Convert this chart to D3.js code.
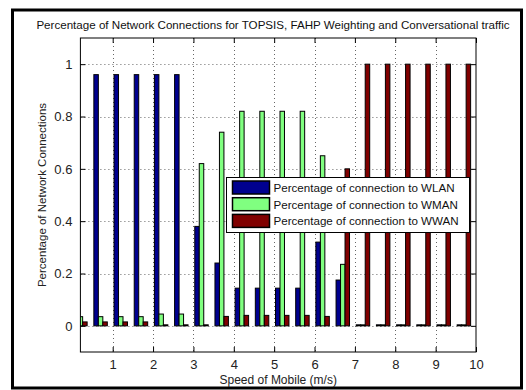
<!DOCTYPE html>
<html><head><meta charset="utf-8">
<script src="https://cdn.jsdelivr.net/npm/d3@7/dist/d3.min.js"></script>
<style>body{margin:0;background:#fff}svg{display:block}text{font-family:"Liberation Sans",Arial,sans-serif}</style>
</head><body><svg id="c" width="526" height="390"></svg>
<script>
const speeds = [0.2,0.7,1.2,1.7,2.2,2.7,3.2,3.7,4.2,4.7,5.2,5.7,6.2,6.7,7.2,7.7,8.2,8.7,9.2,9.7];
const wlan = [0.96,0.96,0.96,0.96,0.96,0.96,0.38,0.24,0.144,0.144,0.144,0.144,0.32,0.175,0,0,0,0,0,0];
const wman = [0.035,0.035,0.035,0.035,0.045,0.045,0.62,0.74,0.82,0.82,0.82,0.82,0.65,0.235,0,0,0,0,0,0];
const wwan = [0.015,0.015,0.015,0.015,0,0,0,0.036,0.04,0.04,0.04,0.04,0.036,0.60,1,1,1,1,1,1];
const seriesNames = ["Percentage of connection to WLAN","Percentage of connection to WMAN","Percentage of connection to WWAN"];
const seriesColors = ["#00008f","#80ff80","#800000"];
const xTicks = [1,2,3,4,5,6,7,8,9,10];
const yTicks = [0,0.2,0.4,0.6,0.8,1];
const titleText = "Percentage of Network Connections for TOPSIS, FAHP Weighting and Conversational traffic";
const xLabel = "Speed of Mobile (m/s)";
const yLabel = "Percentage of Network Connections";

const svg = d3.select("#c");
const L=80.4, R=476, T=38, B=352;
const x = d3.scaleLinear().domain([0.2,10]).range([L,R]);
const y = d3.scaleLinear().domain([-0.1,1.1]).range([B,T]);

// outer frame
svg.append("rect").attr("x",12.5).attr("y",10).attr("width",509).attr("height",378)
  .attr("fill","none").attr("stroke","#000").attr("stroke-width",3);

svg.append("text").attr("x",273).attr("y",29).attr("text-anchor","middle")
  .attr("font-size",11.6).attr("fill","#111").text(titleText);

// grid
const grid = svg.append("g").attr("stroke","#666").attr("stroke-width",1).attr("stroke-dasharray","1,3");
grid.selectAll(".gx").data(xTicks.slice(0,-1)).join("line")
  .attr("x1",d=>Math.round(x(d))+0.5).attr("x2",d=>Math.round(x(d))+0.5).attr("y1",T).attr("y2",B);
grid.selectAll(".gy").data(yTicks).join("line")
  .attr("y1",d=>Math.round(y(d))+0.5).attr("y2",d=>Math.round(y(d))+0.5).attr("x1",L).attr("x2",R);

// bars
svg.append("clipPath").attr("id","clip").append("rect").attr("x",L).attr("y",T).attr("width",R-L).attr("height",B-T);
const gb = svg.append("g").attr("clip-path","url(#clip)");
const series=[wlan,wman,wwan];
const slot = 0.5*(3/4.5)/3;
series.forEach((vals,si)=>{
  gb.selectAll(".b"+si).data(vals).join("rect")
    .attr("x",(d,i)=>x(speeds[i]+(si-1)*slot-slot/2))
    .attr("width",x(slot)-x(0))
    .attr("y",d=>Math.min(y(d),y(0)-1))
    .attr("height",d=>Math.max(1,y(0)-y(d)))
    .attr("fill",seriesColors[si]).attr("stroke","#000").attr("stroke-width",1);
});

// axes box
svg.append("rect").attr("x",L).attr("y",T).attr("width",R-L).attr("height",B-T)
  .attr("fill","none").attr("stroke","#000").attr("stroke-width",1);

const ax = svg.append("g").attr("transform",`translate(0,${B})`).call(d3.axisBottom(x).tickValues(xTicks).tickSizeInner(-5).tickSizeOuter(0).tickPadding(8));
const axT = svg.append("g").attr("transform",`translate(0,${T})`).call(d3.axisTop(x).tickValues(xTicks).tickSizeInner(-5).tickSizeOuter(0).tickFormat(""));
const ay = svg.append("g").attr("transform",`translate(${L},0)`).call(d3.axisLeft(y).tickValues(yTicks).tickSizeInner(-5).tickSizeOuter(0).tickPadding(8).tickFormat(d3.format("~g")));
const ayR = svg.append("g").attr("transform",`translate(${R},0)`).call(d3.axisRight(y).tickValues(yTicks).tickSizeInner(-5).tickSizeOuter(0).tickFormat(""));
[ax,axT,ay,ayR].forEach(g=>{g.select(".domain").remove();g.selectAll("text").attr("font-size",13).attr("fill","#222").attr("font-family","Liberation Sans, Arial, sans-serif");});

svg.append("text").attr("x",(L+R)/2).attr("y",384).attr("text-anchor","middle").attr("font-size",12).attr("fill","#222").text(xLabel);
svg.append("text").attr("transform",`translate(46,${(T+B)/2}) rotate(-90)`).attr("text-anchor","middle").attr("font-size",11.5).attr("fill","#222").text(yLabel);

// legend
const lg = svg.append("g");
lg.append("rect").attr("x",226.5).attr("y",177.5).attr("width",243).attr("height",55).attr("fill","#fff").attr("stroke","#000");
seriesNames.forEach((n,i)=>{
  lg.append("rect").attr("x",232.5).attr("y",181+i*16.7).attr("width",37).attr("height",13).attr("fill",seriesColors[i]).attr("stroke","#000").attr("stroke-width",1.5);
  lg.append("text").attr("x",273.5).attr("y",192+i*16.7).attr("font-size",11.6).attr("fill","#111").text(n);
});
</script></body></html>
